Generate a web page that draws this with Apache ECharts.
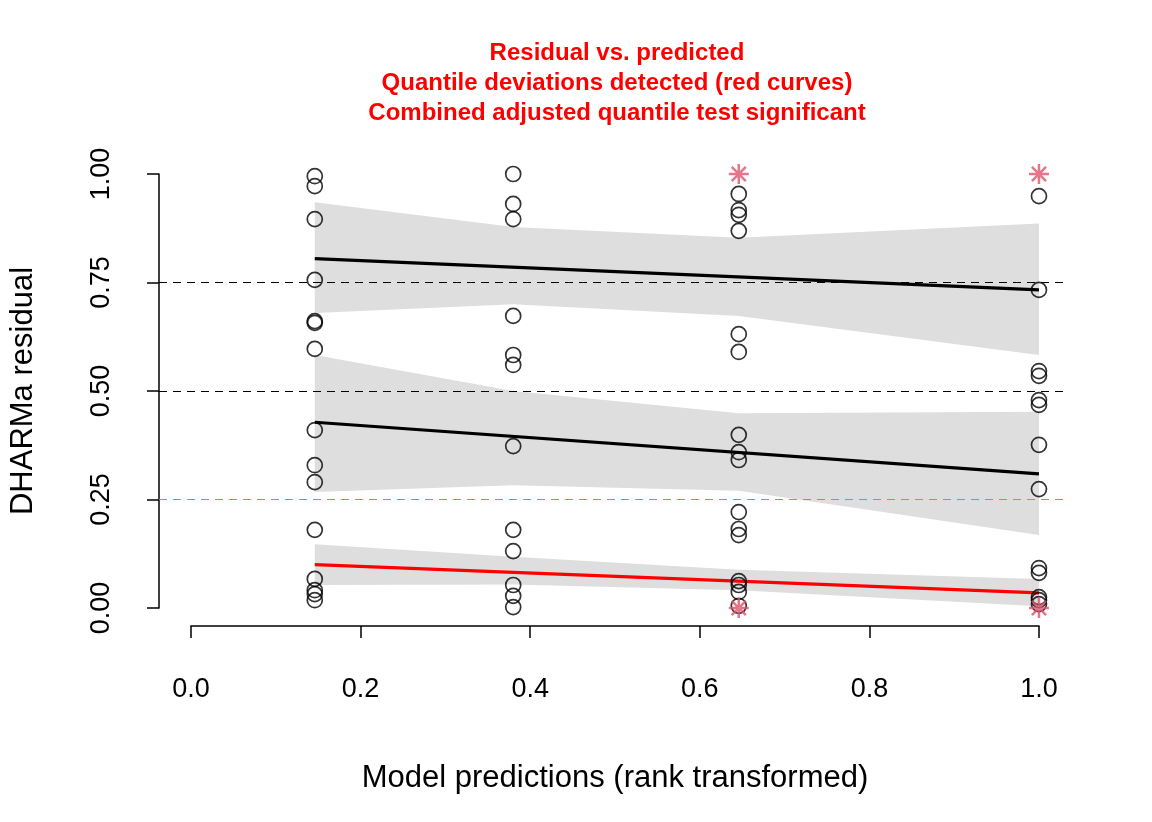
<!DOCTYPE html>
<html><head><meta charset="utf-8">
<script src="https://cdn.jsdelivr.net/npm/echarts@6/dist/echarts.min.js"></script>
<style>html,body{margin:0;padding:0;background:#fff}#c{width:1152px;height:822px}</style>
</head><body><div id="c"></div>
<script>
const groupX = [0.146, 0.38, 0.646, 1.0];
const resid1 = [0.995,0.972,0.896,0.756,0.661,0.657,0.597,0.41,0.329,0.29,0.18,0.067,0.041,0.032,0.018];
const resid2 = [1.0,0.931,0.896,0.673,0.583,0.56,0.373,0.18,0.131,0.053,0.028,0.002];
const resid3 = [0.954,0.917,0.906,0.869,0.631,0.59,0.399,0.359,0.341,0.221,0.182,0.168,0.062,0.053,0.037,0.005];
const resid4 = [0.949,0.733,0.546,0.535,0.479,0.468,0.376,0.274,0.092,0.081,0.025,0.018,0.009];
const outliers = [[0.646,1.0],[0.646,0.0],[1.0,1.0],[1.0,0.0]];
const fitUpper = [0.805, 0.733];
const fitMiddle = [0.428, 0.309];
const fitLower = [0.100, 0.035];
const fitX = [0.146, 1.0];
const bandUpperHi = [0.935,0.878,0.853,0.886];
const bandUpperLo = [0.680,0.700,0.673,0.583];
const bandMidHi = [0.583,0.500,0.449,0.452];
const bandMidLo = [0.267,0.283,0.270,0.168];
const bandLowHi = [0.147,0.118,0.088,0.067];
const bandLowLo = [0.053,0.054,0.041,0.004];

const xmin = -0.0377, xmax = 1.0307, ymin = -0.0415, ymax = 1.0415;
const pts = [];
[resid1,resid2,resid3,resid4].forEach((arr,i)=>arr.forEach(v=>pts.push([groupX[i],v])));
const bands = [[bandUpperLo,bandUpperHi],[bandMidLo,bandMidHi],[bandLowLo,bandLowHi]];
function fit(vals,color){
  return {type:'line',xAxisIndex:0,yAxisIndex:0,data:fitX.map((x,i)=>[x,vals[i]]),symbol:'none',lineStyle:{color:color,width:3.2},z:5};
}
const star = 'path://M0,-10L0,10M-10,0L10,0M-7.07,-7.07L7.07,7.07M-7.07,7.07L7.07,-7.07';
const chart = echarts.init(document.getElementById('c'));
const font = 'Liberation Sans, Arial, sans-serif';
chart.setOption({
  animation:false,
  textStyle:{fontFamily:font},
  title:{text:'Residual vs. predicted\nQuantile deviations detected (red curves)\nCombined adjusted quantile test significant',
    left:612,top:33,textAlign:'center',
    textStyle:{color:'#FF0000',fontSize:24,fontWeight:'bold',lineHeight:30,fontFamily:font}},
  grid:[
    {left:159,right:87,top:156,bottom:196},
    {left:191,right:113,top:174,bottom:196},
    {left:159,right:87,top:174,bottom:214}
  ],
  xAxis:[
    {gridIndex:0,type:'value',min:xmin,max:xmax,show:false},
    {gridIndex:1,type:'value',min:0,max:1,interval:0.2,splitLine:{show:false},
      axisLine:{lineStyle:{color:'#000',width:1.5}},axisTick:{length:12,lineStyle:{color:'#000',width:1.5}},
      axisLabel:{color:'#000',fontSize:27,margin:50,formatter:v=>v.toFixed(1)},
      name:'Model predictions (rank transformed)',nameLocation:'middle',nameGap:137,
      nameTextStyle:{color:'#000',fontSize:31}},
    {gridIndex:2,type:'value',min:0,max:1,show:false}
  ],
  yAxis:[
    {gridIndex:0,type:'value',min:ymin,max:ymax,show:false},
    {gridIndex:1,type:'value',min:0,max:1,show:false},
    {gridIndex:2,type:'value',min:0,max:1,interval:0.25,splitLine:{show:false},
      axisLine:{lineStyle:{color:'#000',width:1.5}},axisTick:{length:12,lineStyle:{color:'#000',width:1.5}},
      axisLabel:{color:'#000',fontSize:27,margin:44,rotate:90,formatter:v=>v.toFixed(2)},
      name:'DHARMa residual',nameLocation:'middle',nameGap:120,nameRotate:90,
      nameTextStyle:{color:'#000',fontSize:31}}
  ],
  series:[
    {type:'custom',xAxisIndex:0,yAxisIndex:0,data:bands.map((b,i)=>[i]),silent:true,z:1,
      renderItem:function(params,api){
        const b = bands[api.value(0)];
        const pts = [];
        groupX.forEach((x,i)=>pts.push(api.coord([x,b[1][i]])));
        for(let i=groupX.length-1;i>=0;i--) pts.push(api.coord([groupX[i],b[0][i]]));
        return {type:'polygon',shape:{points:pts},style:{fill:'#DEDEDE'}};
      }},
    {type:'line',xAxisIndex:0,yAxisIndex:0,data:[],markLine:{symbol:'none',silent:true,label:{show:false},
      data:[
        {yAxis:0.75,lineStyle:{color:'#000',type:[8,6],width:1}},
        {yAxis:0.5,lineStyle:{color:'#000',type:[8,6],width:1}},
        {yAxis:0.25,lineStyle:{color:'#FF6666',type:[8,6],width:1.2}}
      ]}},
    fit(fitUpper,'#000'), fit(fitMiddle,'#000'), fit(fitLower,'#FF0000'),
    {type:'scatter',xAxisIndex:0,yAxisIndex:0,data:pts,symbol:'circle',symbolSize:15,
      itemStyle:{color:'transparent',borderColor:'#000',borderWidth:1.7},z:6},
    {type:'scatter',xAxisIndex:0,yAxisIndex:0,data:outliers,symbol:star,symbolSize:20,
      itemStyle:{color:'transparent',borderColor:'#DF536B',borderWidth:2.5},z:7}
  ]
});
</script></body></html>
